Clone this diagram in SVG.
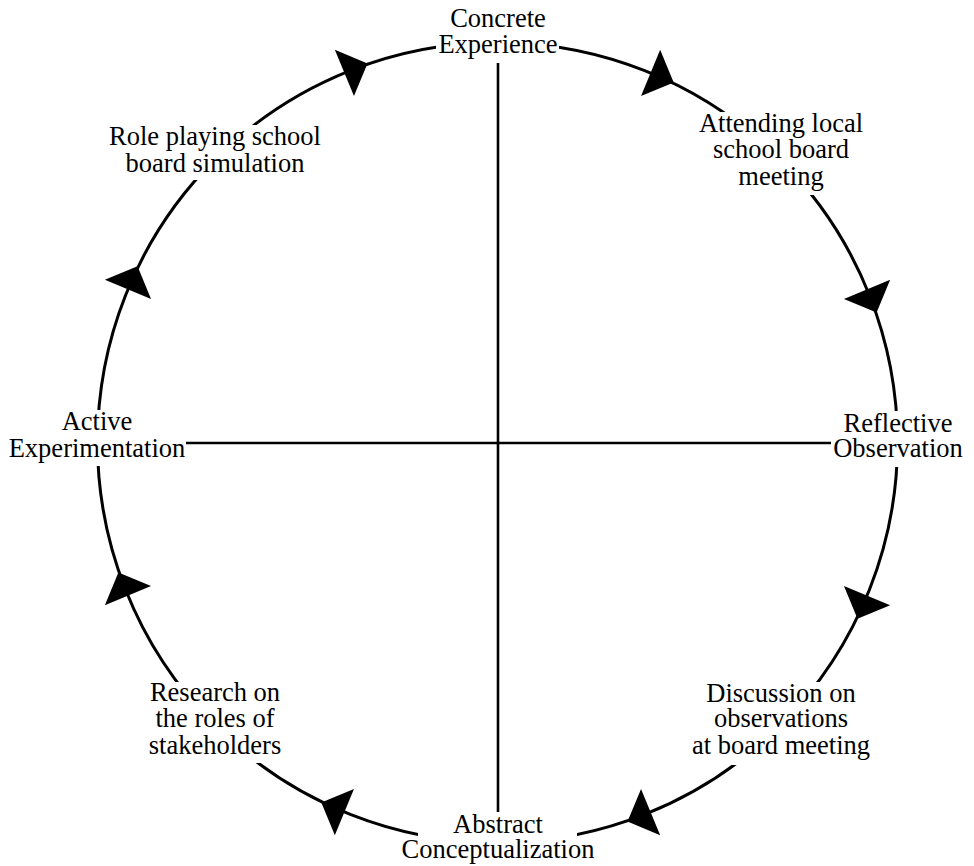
<svg xmlns="http://www.w3.org/2000/svg" xmlns:xlink="http://www.w3.org/1999/xlink" width="974" height="866" viewBox="0 0 974 866">
  <style>
    .lbl { font-family: "Liberation Serif", "Times New Roman", serif; font-size: 26.5px; fill: #000; text-anchor: middle; }
    .ring { fill: none; stroke: #000; stroke-width: 3; }
    .axis { stroke: #000; stroke-width: 2.6; fill: none; }
    .bg { fill: #fff; stroke: none; }
  </style>
  <defs>
    <path id="arrowhead" d="M 0 -25 L 25 0 L 0 25 Z" fill="#000"/>
  </defs>
  <rect width="974" height="866" fill="#fff"/>

  <g id="connectors">
    <circle class="ring" cx="497.5" cy="442.5" r="400"/>
    <line class="axis" x1="498" y1="63" x2="498" y2="812"/>
    <line class="axis" x1="186" y1="443" x2="832" y2="443"/>
    <use href="#arrowhead" xlink:href="#arrowhead" transform="translate(344.4 72.95) rotate(-22.5)"/>
    <use href="#arrowhead" xlink:href="#arrowhead" transform="translate(650.6 72.95) rotate(22.5)"/>
    <use href="#arrowhead" xlink:href="#arrowhead" transform="translate(867.05 289.4) rotate(67.5)"/>
    <use href="#arrowhead" xlink:href="#arrowhead" transform="translate(867.05 595.6) rotate(112.5)"/>
    <use href="#arrowhead" xlink:href="#arrowhead" transform="translate(650.6 812.05) rotate(157.5)"/>
    <use href="#arrowhead" xlink:href="#arrowhead" transform="translate(344.4 812.05) rotate(202.5)"/>
    <use href="#arrowhead" xlink:href="#arrowhead" transform="translate(127.95 595.6) rotate(247.5)"/>
    <use href="#arrowhead" xlink:href="#arrowhead" transform="translate(127.95 289.4) rotate(292.5)"/>
  </g>

  <g id="concrete-experience">
    <rect class="bg" x="436" y="4" width="123" height="58"/>
    <text class="lbl" x="498" y="27">Concrete</text>
    <text class="lbl" x="498" y="53">Experience</text>
  </g>

  <g id="attending-meeting">
    <rect class="bg" x="697" y="112" width="170" height="83"/>
    <text class="lbl" x="781" y="132">Attending local</text>
    <text class="lbl" x="781" y="158">school board</text>
    <text class="lbl" x="781" y="185">meeting</text>
  </g>

  <g id="reflective-observation">
    <rect class="bg" x="831" y="411" width="138" height="56"/>
    <text class="lbl" x="898" y="432">Reflective</text>
    <text class="lbl" x="898" y="457">Observation</text>
  </g>

  <g id="discussion-observations">
    <rect class="bg" x="689" y="682" width="184" height="83"/>
    <text class="lbl" x="781" y="702">Discussion on</text>
    <text class="lbl" x="781" y="727">observations</text>
    <text class="lbl" x="781" y="754">at board meeting</text>
  </g>

  <g id="abstract-conceptualization">
    <rect class="bg" x="418" y="814" width="159" height="52"/>
    <text class="lbl" x="498" y="833">Abstract</text>
    <text class="lbl" x="498" y="858">Conceptualization</text>
  </g>

  <g id="research-stakeholders">
    <rect class="bg" x="145" y="682" width="140" height="81"/>
    <text class="lbl" x="215" y="701">Research on</text>
    <text class="lbl" x="215" y="727">the roles of</text>
    <text class="lbl" x="215" y="754">stakeholders</text>
  </g>

  <g id="active-experimentation">
    <rect class="bg" x="4" y="410" width="182" height="56"/>
    <text class="lbl" x="97" y="430">Active</text>
    <text class="lbl" x="97" y="457">Experimentation</text>
  </g>

  <g id="role-playing">
    <rect class="bg" x="106" y="125" width="218" height="55"/>
    <text class="lbl" x="215" y="145">Role playing school</text>
    <text class="lbl" x="215" y="172">board simulation</text>
  </g>
</svg>
